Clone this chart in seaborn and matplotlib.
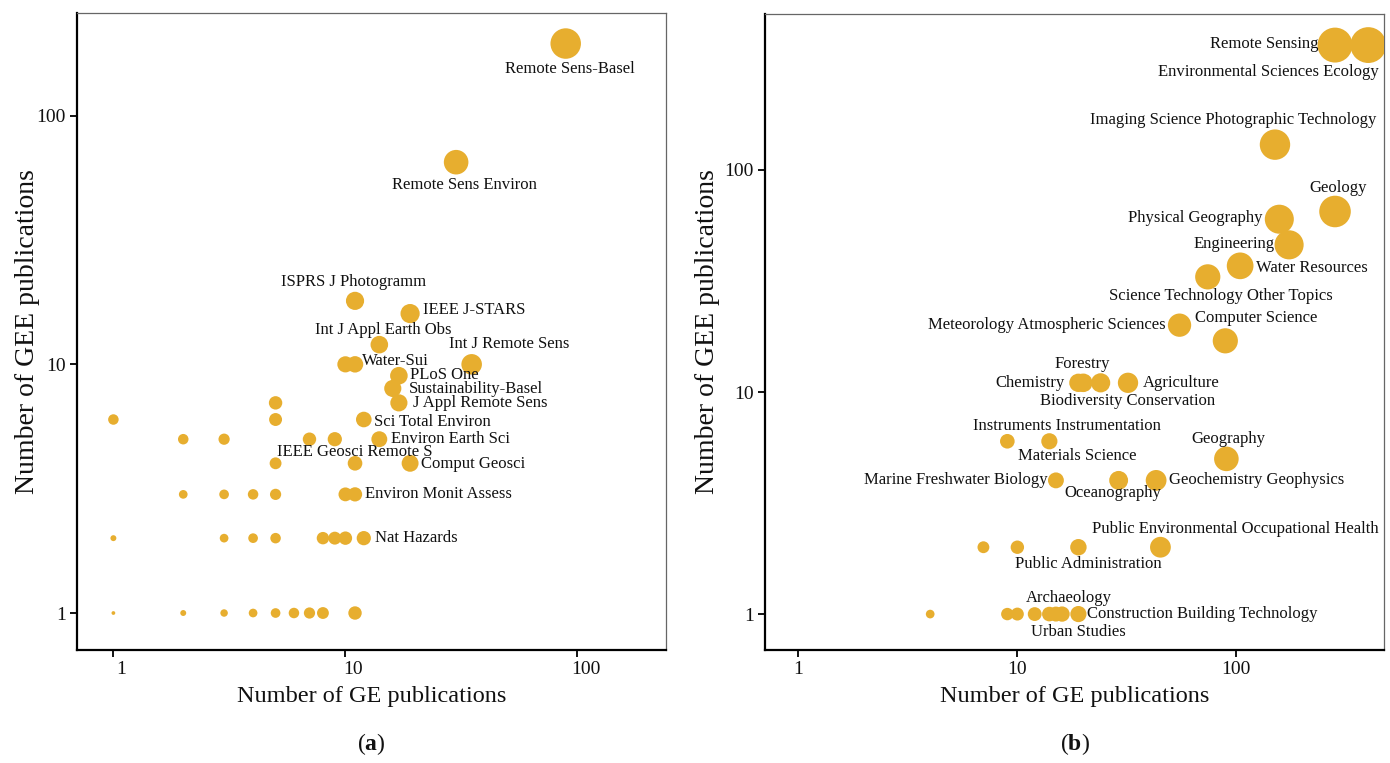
import numpy as np
import pandas as pd
import matplotlib
matplotlib.use("Agg")
import matplotlib.pyplot as plt
import matplotlib.transforms as mtransforms
import seaborn as sns

# ---------------- data: panel (a) journals ----------------
a_ge = [1, 2, 3, 4, 5, 6, 7, 8, 11,
        1, 3, 4, 5, 8, 9, 10, 12,
        2, 3, 4, 5, 10, 11,
        5, 11, 19,
        2, 3, 7, 9, 14,
        1, 5, 12,
        5, 17,
        16,
        17,
        10, 11, 35,
        14,
        19,
        11,
        30,
        89]
a_gee = [1, 1, 1, 1, 1, 1, 1, 1, 1,
         2, 2, 2, 2, 2, 2, 2, 2,
         3, 3, 3, 3, 3, 3,
         4, 4, 4,
         5, 5, 5, 5, 5,
         6, 6, 6,
         7, 7,
         8,
         9,
         10, 10, 10,
         12,
         16,
         18,
         65,
         195]
a_names = ["", "", "", "", "", "", "", "", "",
           "", "", "", "", "", "", "", "Nat Hazards",
           "", "", "", "", "", "Environ Monit Assess",
           "", "IEEE Geosci Remote S", "Comput Geosci",
           "", "", "", "", "Environ Earth Sci",
           "", "", "Sci Total Environ",
           "", "J Appl Remote Sens",
           "Sustainability-Basel",
           "PLoS One",
           "", "Water-Sui", "Int J Remote Sens",
           "Int J Appl Earth Obs",
           "IEEE J-STARS",
           "ISPRS J Photogramm",
           "Remote Sens Environ",
           "Remote Sens-Basel"]

# ---------------- data: panel (b) research areas ----------------
b_ge = [4, 9, 10, 12, 14, 15, 16, 19,
        7, 10, 19, 45,
        15, 29, 43,
        90,
        9, 14,
        19, 20, 24, 32,
        89, 55, 74, 104, 174, 157, 282, 150, 282, 400]
b_gee = [1, 1, 1, 1, 1, 1, 1, 1,
         2, 2, 2, 2,
         4, 4, 4,
         5,
         6, 6,
         11, 11, 11, 11,
         17, 20, 33, 37, 46, 60, 65, 130, 365, 365]
b_names = ["", "", "", "", "Archaeology", "Urban Studies", "", "Construction Building Technology",
           "", "", "Public Administration", "Public Environmental Occupational Health",
           "Marine Freshwater Biology", "Oceanography", "Geochemistry Geophysics",
           "Geography",
           "Instruments Instrumentation", "Materials Science",
           "Chemistry", "Forestry", "Biodiversity Conservation", "Agriculture",
           "Computer Science", "Meteorology Atmospheric Sciences",
           "Science Technology Other Topics", "Water Resources", "Engineering",
           "Physical Geography", "Geology", "Imaging Science Photographic Technology",
           "Remote Sensing", "Environmental Sciences Ecology"]

tick_vals = [1, 10, 100]
tick_labels = ["1", "10", "100"]

# ---------------- label placement (pixel offsets from point, ha) ----------------
a_label_pos = {
    "Remote Sens-Basel": (4, -25, "center"),
    "Remote Sens Environ": (8, -23, "center"),
    "ISPRS J Photogramm": (-1, 19, "center"),
    "IEEE J-STARS": (13, 4, "left"),
    "Int J Appl Earth Obs": (4, 15, "center"),
    "Int J Remote Sens": (38, 20, "center"),
    "Water-Sui": (7, 3, "left"),
    "PLoS One": (11, 1, "left"),
    "Sustainability-Basel": (16, -1, "left"),
    "J Appl Remote Sens": (14, 0, "left"),
    "Sci Total Environ": (10, -2, "left"),
    "Environ Earth Sci": (12, 0, "left"),
    "IEEE Geosci Remote S": (0, 11, "center"),
    "Comput Geosci": (11, -1, "left"),
    "Environ Monit Assess": (10, 0, "left"),
    "Nat Hazards": (11, 0, "left"),
}
b_label_pos = {
    "Remote Sensing": (-17, 1, "right"),
    "Environmental Sciences Ecology": (-100, -27, "center"),
    "Imaging Science Photographic Technology": (-42, 25, "center"),
    "Geology": (3, 23, "center"),
    "Physical Geography": (-17, 1, "right"),
    "Engineering": (-14, 1, "right"),
    "Water Resources": (16, -2, "left"),
    "Science Technology Other Topics": (13, -19, "center"),
    "Meteorology Atmospheric Sciences": (-14, 0, "right"),
    "Computer Science": (31, 23, "center"),
    "Forestry": (-1, 19, "center"),
    "Chemistry": (-14, 0, "right"),
    "Agriculture": (15, 0, "left"),
    "Biodiversity Conservation": (27, -18, "center"),
    "Instruments Instrumentation": (60, 15, "center"),
    "Materials Science": (28, -15, "center"),
    "Marine Freshwater Biology": (-8, 0, "right"),
    "Oceanography": (-6, -13, "center"),
    "Geochemistry Geophysics": (13, 0, "left"),
    "Geography": (2, 20, "center"),
    "Public Environmental Occupational Health": (75, 18, "center"),
    "Public Administration": (10, -17, "center"),
    "Archaeology": (19, 16, "center"),
    "Construction Building Technology": (9, 0, "left"),
    "Urban Studies": (22, -18, "center"),
}

GOLD = "#E7AE2F"

sns.set_theme(style="ticks")
plt.rcParams['font.family'] = ['Liberation Serif', 'DejaVu Serif']
plt.rcParams['mathtext.fontset'] = 'custom'
plt.rcParams['mathtext.rm'] = 'Liberation Serif'
plt.rcParams['mathtext.bf'] = 'Liberation Serif:bold'

fig = plt.figure(figsize=(13.9, 7.63), dpi=100)
axA = fig.add_axes([0.0552, 0.1481, 0.424, 0.835])
axB = fig.add_axes([0.5504, 0.1481, 0.4453, 0.8336])

PX = 0.72  # points per pixel at dpi 100


def draw(ax, ge, gee, names, label_pos, xlim, ylim, ylab_x, xtick_shift):
    df = pd.DataFrame({"ge": ge, "gee": gee, "name": names})
    df["mag"] = np.log(df["ge"] + df["gee"]) ** 2
    sns.scatterplot(data=df, x="ge", y="gee", size="mag", sizes=(0, 755),
                    size_norm=(0, 50), color=GOLD, linewidth=0, alpha=1,
                    legend=False, ax=ax, zorder=3)
    ax.set_xscale("log")
    ax.set_yscale("log")
    ax.set_xlim(*xlim)
    ax.set_ylim(*ylim)
    ax.set_xticks(tick_vals)
    ax.set_xticklabels(tick_labels)
    ax.set_yticks(tick_vals)
    ax.set_yticklabels(tick_labels)
    ax.minorticks_off()
    ax.tick_params(which="major", direction="out", length=5, width=1.3,
                   color="black", labelsize=14, pad=3, labelcolor="#111111")
    if xtick_shift:
        off = mtransforms.ScaledTranslation(xtick_shift / 100, 0, fig.dpi_scale_trans)
        for lab in ax.get_xticklabels():
            lab.set_transform(lab.get_transform() + off)
    for s in ["left", "bottom"]:
        ax.spines[s].set_color("black")
        ax.spines[s].set_linewidth(1.6)
    for s in ["top", "right"]:
        ax.spines[s].set_color("#666666")
        ax.spines[s].set_linewidth(0.9)
    ax.set_xlabel("Number of GE publications", fontsize=17.5, color="#111111", labelpad=6)
    ax.set_ylabel("Number of GEE publications", fontsize=20, color="#111111")
    ax.yaxis.set_label_coords(ylab_x, 0.5)
    for _, r in df.iterrows():
        if r["name"] and r["name"] in label_pos:
            dx, dy, ha = label_pos[r["name"]]
            ax.annotate(r["name"], (r["ge"], r["gee"]), xytext=(dx * PX, dy * PX),
                        textcoords="offset points", ha=ha, va="center",
                        fontsize=12, color="#111111", zorder=4)


draw(axA, a_ge, a_gee, a_names, a_label_pos, (0.695, 241), (0.71, 259), -0.062, 8)
draw(axB, b_ge, b_gee, b_names, b_label_pos, (0.705, 472), (0.689, 504), -0.0727, 0)

fig.text(371.5 / 1390, 1 - 744 / 763, r"($\mathbf{a}$)", ha="center", va="center",
         fontsize=17, color="#111111")
fig.text(1074.5 / 1390, 1 - 744 / 763, r"($\mathbf{b}$)", ha="center", va="center",
         fontsize=17, color="#111111")

fig.savefig("out.png", dpi=100)
